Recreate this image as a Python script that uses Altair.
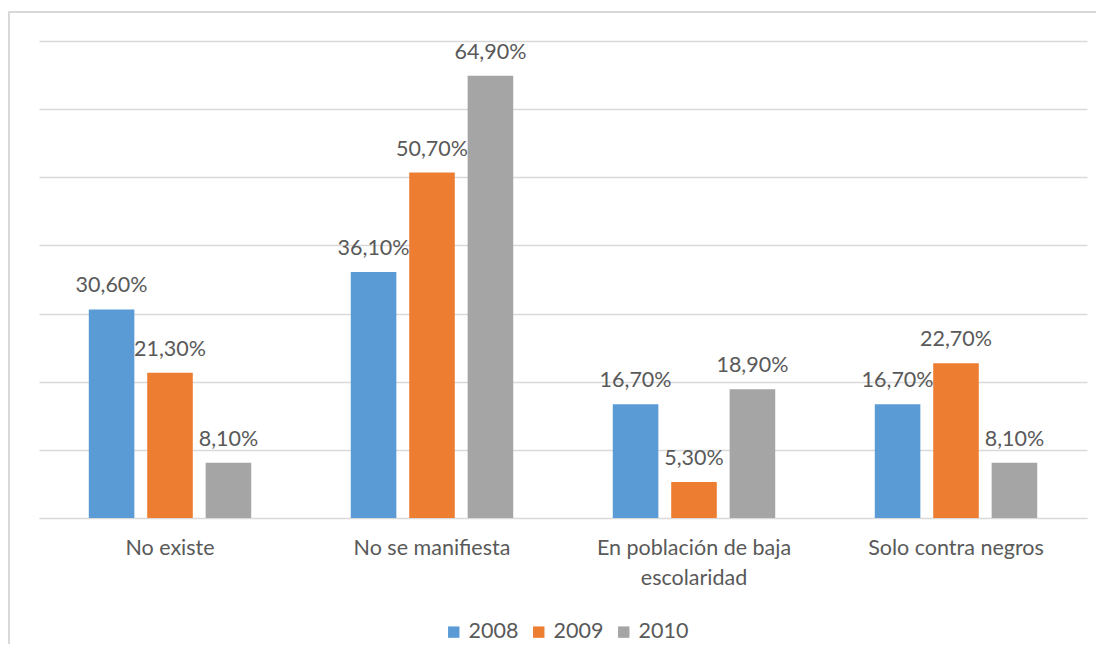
import altair as alt
import pandas as pd

categories = ["No existe", "No se manifiesta", "En población de baja escolaridad", "Solo contra negros"]
years = ["2008", "2009", "2010"]
v2008 = [30.6, 36.1, 16.7, 16.7]
v2009 = [21.3, 50.7, 5.3, 22.7]
v2010 = [8.1, 64.9, 18.9, 8.1]
colors = ["#5B9BD5", "#ED7D31", "#A5A5A5"]

rows = []
for yr, vals in zip(years, [v2008, v2009, v2010]):
    for c, v in zip(categories, vals):
        rows.append({"cat": c, "year": yr, "value": v,
                     "label": f"{v:.2f}".replace(".", ",") + "%"})
df = pd.DataFrame(rows)

FONT = "Lato"
TXT = "#595959"

x = alt.X("cat:N", sort=categories, title=None,
          scale=alt.Scale(paddingInner=0.38, paddingOuter=0.19),
          axis=alt.Axis(labelAngle=0, ticks=False, grid=False, domainColor="#D9D9D9",
                        labelFont=FONT, labelFontSize=21.5, labelColor=TXT,
                        labelPadding=19, labelLineHeight=30, labelLimit=400,
                        labelExpr="datum.label == 'En población de baja escolaridad' ? ['En población de baja', 'escolaridad'] : datum.label"))
xo = alt.XOffset("year:N", sort=years, scale=alt.Scale(paddingInner=0.22, paddingOuter=0))
y = alt.Y("value:Q", title=None, scale=alt.Scale(domain=[0, 70], nice=False),
          axis=alt.Axis(values=[0, 10, 20, 30, 40, 50, 60, 70], labels=False, ticks=False,
                        domain=False, gridColor="#D9D9D9", gridWidth=1.3))

base = alt.Chart(df)

bars = base.mark_bar().encode(
    x=x, xOffset=xo, y=y,
    color=alt.Color("year:N", sort=years, title=None,
                    scale=alt.Scale(domain=years, range=colors),
                    legend=alt.Legend(orient="none", direction="horizontal", legendX=404, legendY=580,
                                      symbolType="square", symbolSize=130, symbolStrokeWidth=0,
                                      labelFont=FONT, labelFontSize=21.5, labelColor=TXT,
                                      columnPadding=9, labelOffset=4))
)

labels = base.mark_text(font=FONT, fontSize=21.5, color=TXT, baseline="alphabetic", dy=-17).encode(
    x=x, xOffset=xo, y=y, text="label:N"
)

one = pd.DataFrame({"a": [0]})
border_left = alt.Chart(one).mark_rule(stroke="#D9D9D9", strokeWidth=2).encode(
    x=alt.value(-30), y=alt.value(-29), y2=alt.value(700)
)
border_top = alt.Chart(one).mark_rule(stroke="#D9D9D9", strokeWidth=2).encode(
    x=alt.value(-31), x2=alt.value(1200), y=alt.value(-29)
)

chart = alt.layer(border_left, border_top, bars, labels).properties(
    width=1048, height=477,
    autosize=alt.AutoSizeParams(type="none"),
    padding={"left": 31, "top": 33, "right": 9, "bottom": 126},
).configure(background="white").configure_view(stroke=None)

chart.save("out.html", embed_options={"renderer": "svg", "actions": False})
